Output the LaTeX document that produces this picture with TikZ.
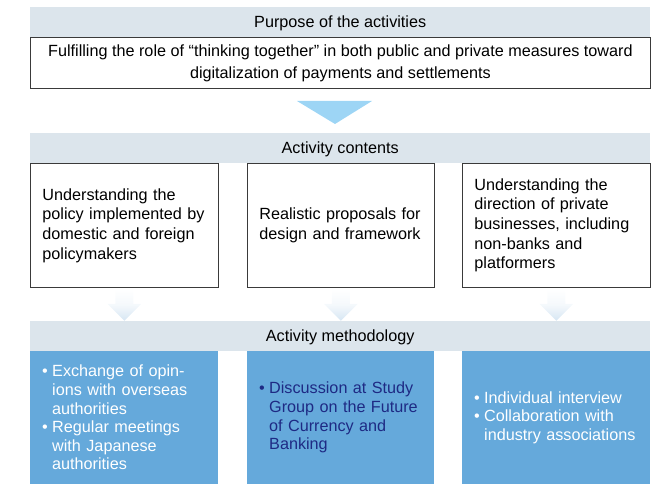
\documentclass[tikz,border=0pt]{standalone}
\usepackage{fontspec}
\setmainfont{Liberation Sans}
\usetikzlibrary{calc}
\definecolor{hdrfill}{HTML}{DCE5EC}
\definecolor{boxline}{HTML}{3A3A3A}
\definecolor{tri}{HTML}{9DD5F5}
\definecolor{bluebox}{HTML}{65A9DB}
\definecolor{navy}{HTML}{1E2A84}
\definecolor{fadeblue}{HTML}{D6E6F3}
\newcommand{\blt}{\makebox[10pt][l]{•}}
\newcommand{\ind}{\hspace*{10pt}}
\begin{document}
\begin{tikzpicture}[x=1pt,y=-1pt,
  hdr/.style={fill=hdrfill, minimum width=620pt, minimum height=30pt, inner sep=0pt, anchor=north west,
    text height=12pt, text depth=1pt, font=\fontsize{16.2}{19}\selectfont},
  cbox/.style={draw=boxline, line width=0.8pt, fill=white, minimum height=124pt, anchor=north west,
    inner xsep=12pt, align=left, font=\fontsize{16.2}{19.7}\selectfont},
  mbox/.style={fill=bluebox, minimum height=133pt, anchor=north west, text=white,
    inner xsep=12pt, align=left, font=\fontsize{16.2}{18.6}\selectfont},
  fade/.style={top color=white, bottom color=fadeblue, middle color=white!75!fadeblue, draw=none}
]
\useasboundingbox (0,0) rectangle (659,486);
% purpose
\node[hdr] (h1) at (30,7) {Purpose of the activities};
\node[draw=boxline, line width=0.8pt, fill=white, minimum width=620pt, minimum height=51pt, anchor=north west,
  align=center, inner sep=0pt, font=\fontsize{16.2}{22}\selectfont] (p) at (30,37)
  {Fulfilling the role of “thinking together” in both public and private measures toward\\digitalization of payments and settlements};
% big triangle
\fill[tri] (297,101) -- (372,101) -- (335,124) -- cycle;
% contents
\node[hdr] (h2) at (30,133) {Activity contents};
\node[cbox, text width=164pt] (c1) at (30,163) {Understanding the\\policy implemented by\\domestic and foreign\\policymakers};
\node[cbox, text width=163pt] (c2) at (247,163) {Realistic proposals for\\design and framework};
\node[cbox, text width=164pt] (c3) at (462,163) {Understanding the\\direction of private\\businesses, including\\non-banks and\\platformers};
% faint arrows
\foreach \n in {c1,c2,c3}{
  \path[fade] ($(\n.south)+(-9,1)$) -- ($(\n.south)+(9,1)$) -- ($(\n.south)+(9,16)$) -- ($(\n.south)+(17,16)$)
    -- ($(\n.south)+(0,33)$) -- ($(\n.south)+(-17,16)$) -- ($(\n.south)+(-9,16)$) -- cycle;
}
% methodology
\node[hdr] (h3) at (30,321) {Activity methodology};
\node[mbox, text width=164pt] (m1) at (30,351) {\blt Exchange of opin-\\\ind ions with overseas\\\ind authorities\\\blt Regular meetings\\\ind with Japanese\\\ind authorities};
\node[mbox, text width=163pt, text=navy] (m2) at (247,351) {\blt Discussion at Study\\\ind Group on the Future\\\ind of Currency and\\\ind Banking};
\node[mbox, text width=164pt] (m3) at (462,351) {\blt Individual interview\\\blt Collaboration with\\\ind industry associations};
\end{tikzpicture}
\end{document}
